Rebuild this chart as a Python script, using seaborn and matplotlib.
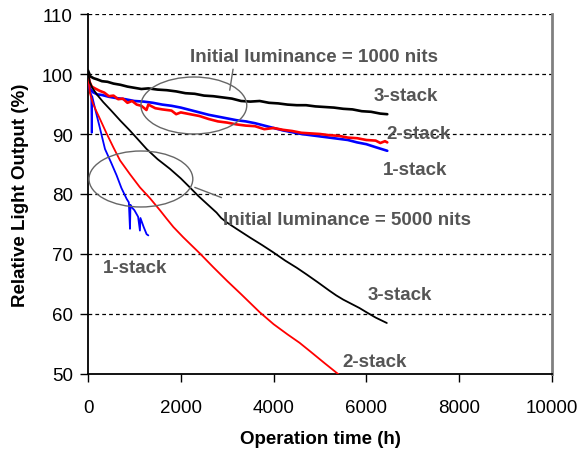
import matplotlib
matplotlib.use("Agg")
import matplotlib.pyplot as plt
from matplotlib.patches import Ellipse
import seaborn as sns
import pandas as pd

# ---- data ----
# Initial luminance = 1000 nits
x_3s_1000 = [0, 50, 120, 200, 300, 420, 550, 700, 850, 1000, 1150, 1300, 1500, 1700, 1900, 2100, 2300,
             2500, 2700, 2900, 3100, 3300, 3500, 3700, 3900, 4100, 4300, 4500, 4700, 4900, 5100, 5300,
             5500, 5700, 5900, 6100, 6300, 6450]
y_3s_1000 = [100.6, 99.6, 99.3, 99.1, 98.8, 98.7, 98.4, 98.2, 97.9, 97.7, 97.5, 97.6, 97.4, 97.3, 97.1,
             96.8, 96.7, 96.4, 96.3, 96.1, 95.9, 95.5, 95.4, 95.5, 95.2, 95.1, 94.9, 94.8, 94.8, 94.6,
             94.5, 94.4, 94.2, 94.1, 93.8, 93.7, 93.4, 93.3]

x_2s_1000 = [0, 30, 80, 150, 250, 350, 450, 550, 650, 750, 850, 950, 1050, 1150, 1260, 1300, 1450, 1600,
             1800, 1900, 2000, 2200, 2400, 2600, 2800, 3000, 3200, 3400, 3600, 3800, 4000, 4200, 4400,
             4600, 4800, 5000, 5200, 5400, 5600, 5800, 6000, 6200, 6300, 6400, 6450]
y_2s_1000 = [100.2, 98.8, 97.9, 97.6, 97.2, 96.9, 96.3, 96.4, 95.8, 95.9, 95.2, 95.5, 94.9, 94.7, 94.0,
             94.9, 94.3, 94.1, 93.9, 93.3, 93.6, 93.3, 93.0, 92.5, 92.1, 91.9, 91.6, 91.4, 91.3, 90.8,
             91.0, 90.7, 90.5, 90.2, 90.1, 90.0, 89.8, 89.7, 89.4, 89.3, 89.0, 88.9, 88.5, 88.8, 88.6]

x_1s_1000 = [0, 40, 100, 200, 300, 450, 600, 800, 1000, 1200, 1400, 1600, 1800, 2000, 2200, 2400, 2600,
             2800, 3000, 3200, 3400, 3600, 3800, 4000, 4200, 4400, 4600, 4800, 5000, 5200, 5400, 5600,
             5800, 6000, 6200, 6450]
y_1s_1000 = [100.0, 97.6, 97.0, 96.6, 96.5, 96.2, 96.0, 95.8, 95.5, 95.4, 95.2, 94.9, 94.7, 94.4, 94.0,
             93.6, 93.2, 92.9, 92.6, 92.3, 92.1, 91.8, 91.4, 91.0, 90.6, 90.3, 90.0, 89.8, 89.6, 89.4,
             89.2, 89.0, 88.6, 88.3, 87.8, 87.2]

# Initial luminance = 5000 nits
x_3s_5000 = [0, 40, 100, 200, 330, 500, 700, 900, 1100, 1263, 1500, 1765, 2000, 2195, 2374, 2600, 2770,
             2870, 2985, 3200, 3500, 3750, 3988, 4250, 4500, 4710, 4950, 5200, 5350, 5500, 5700, 5850,
             6000, 6200, 6440]
y_3s_5000 = [100.3, 98.6, 97.6, 96.5, 95.3, 93.9, 92.2, 90.6, 88.9, 87.5, 85.8, 84.2, 82.6, 81.1, 79.7,
             78.1, 76.9, 76.0, 75.3, 74.2, 72.7, 71.5, 70.3, 68.9, 67.7, 66.6, 65.3, 63.9, 63.1, 62.4,
             61.6, 61.0, 60.3, 59.4, 58.5]

x_2s_5000 = [0, 20, 43, 100, 180, 258, 400, 545, 690, 904, 1120, 1335, 1550, 1693, 1840, 2051, 2250,
             2410, 2700, 3000, 3300, 3500, 3700, 4000, 4300, 4560, 4800, 5100, 5390, 5450]
y_2s_5000 = [100.2, 98.5, 96.8, 95.2, 93.8, 92.5, 90.1, 87.8, 85.6, 83.3, 81.1, 79.3, 77.3, 75.9, 74.5,
             72.8, 71.3, 70.1, 67.8, 65.5, 63.3, 61.8, 60.3, 58.3, 56.6, 55.2, 53.7, 51.8, 50.0, 49.6]

x_1s_5000 = [0, 15, 40, 70, 80, 90, 150, 250, 366, 500, 617, 720, 832, 880, 905, 915, 940, 1000, 1080,
             1119, 1130, 1200, 1263, 1300]
y_1s_5000 = [100.0, 98.2, 97.0, 96.6, 90.2, 96.3, 94.3, 91.2, 87.5, 85.2, 83.1, 81.0, 79.2, 78.6, 74.2,
             78.2, 77.8, 77.3, 76.2, 73.9, 76.0, 74.5, 73.3, 73.1]

x_ticks = [0, 2000, 4000, 6000, 8000, 10000]
y_ticks = [50, 60, 70, 80, 90, 100, 110]

# ---- styling ----
sns.set_theme(style="white")
plt.rcParams["font.family"] = ["Liberation Sans", "DejaVu Sans"]

fig = plt.figure(figsize=(5.81, 4.52), dpi=100)
ax = fig.add_axes([88 / 581, 1 - 375 / 452, (552 - 88) / 581, (375 - 15) / 452])

series = [
    (x_3s_1000, y_3s_1000, "black", 1.9),
    (x_2s_1000, y_2s_1000, "#ff0000", 1.9),
    (x_1s_1000, y_1s_1000, "#0000ff", 1.9),
    (x_3s_5000, y_3s_5000, "black", 1.3),
    (x_2s_5000, y_2s_5000, "#ff0000", 1.3),
    (x_1s_5000, y_1s_5000, "#0000ff", 1.3),
]

# gridlines (dashed) including top border at 110
for yv in [60, 70, 80, 90, 100, 110]:
    ax.axhline(yv, color="black", lw=0.9, ls=(0, (3, 2.5)), zorder=1)

order = [2, 1, 0, 5, 4, 3]
for i in order:
    xs, ys, c, lw = series[i]
    df = pd.DataFrame({"x": xs, "y": ys})
    sns.lineplot(data=df, x="x", y="y", sort=False, estimator=None, color=c, lw=lw, ax=ax, zorder=3)

ax.set_xlim(0, 10000)
ax.set_ylim(50, 110)
ax.set_xticks(x_ticks)
ax.set_yticks(y_ticks)
ax.tick_params(axis="both", direction="out", length=6, width=1, color="black",
               labelsize=13.5, labelcolor="black")
ax.tick_params(axis="y", pad=5)
ax.tick_params(axis="x", pad=12)
ax.tick_params(bottom=True, left=True)

ax.spines["top"].set_visible(False)
ax.spines["left"].set_color("black")
ax.spines["left"].set_linewidth(1.3)
ax.spines["bottom"].set_color("black")
ax.spines["bottom"].set_linewidth(1.3)
ax.spines["right"].set_color("#808080")
ax.spines["right"].set_linewidth(2)

ax.set_xlabel("Operation time (h)", fontsize=13.5, fontweight="bold", color="black", labelpad=10)
ax.set_ylabel("Relative Light Output (%)", fontsize=13.5, fontweight="bold", color="black", labelpad=9)

# ellipses
ax.add_patch(Ellipse((2281, 94.75), 2281, 9.5, fill=False, ec="#666666", lw=1.0, zorder=4))
ax.add_patch(Ellipse((1140, 82.5), 2238, 9.33, fill=False, ec="#666666", lw=1.0, zorder=4))
ax.plot([3055, 3126], [97.3, 100.8], color="#666666", lw=1.0, zorder=4)
ax.plot([2302, 2877], [81.1, 79.4], color="#666666", lw=1.0, zorder=4)

tc = "#555555"
fs = 13.5
ax.text(2195, 103.0, "Initial luminance = 1000 nits", color=tc, fontsize=fs, fontweight="bold",
        ha="left", va="center", zorder=5)
ax.text(2899, 75.8, "Initial luminance = 5000 nits", color=tc, fontsize=fs, fontweight="bold",
        ha="left", va="center", zorder=5)
ax.text(6155, 96.4, "3-stack", color=tc, fontsize=fs, fontweight="bold", ha="left", va="center", zorder=5)
ax.text(6440, 90.1, "2-stack", color=tc, fontsize=fs, fontweight="bold", ha="left", va="center", zorder=5)
ax.text(6350, 84.05, "1-stack", color=tc, fontsize=fs, fontweight="bold", ha="left", va="center", zorder=5)
ax.text(315, 67.8, "1-stack", color=tc, fontsize=fs, fontweight="bold", ha="left", va="center", zorder=5)
ax.text(6030, 63.3, "3-stack", color=tc, fontsize=fs, fontweight="bold", ha="left", va="center", zorder=5)
ax.text(5490, 52.1, "2-stack", color=tc, fontsize=fs, fontweight="bold", ha="left", va="center", zorder=5)

fig.savefig("out.png", dpi=100)
